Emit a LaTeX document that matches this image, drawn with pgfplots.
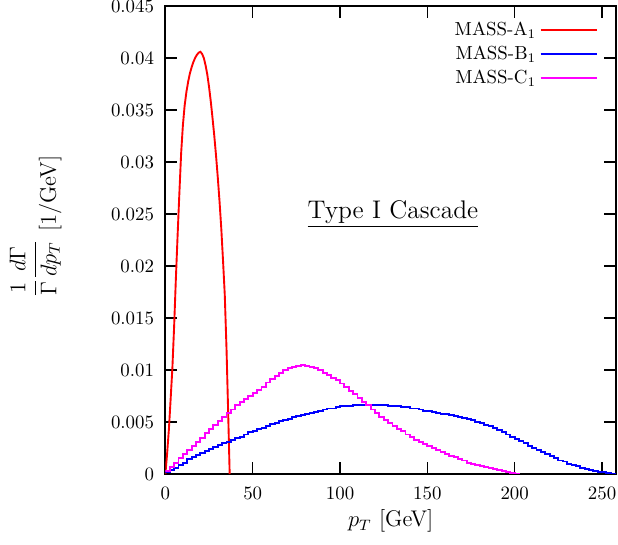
\documentclass[border=0pt]{standalone}
\usepackage{pgfplots}
\pgfplotsset{compat=1.18}
\definecolor{mmag}{RGB}{255,0,255}
\newlength\px \setlength\px{0.53pt}
\begin{document}
\begin{tikzpicture}
\begin{axis}[name=ax, scale only axis, width=450.6\px, height=468\px,
  xmin=0, xmax=258, ymin=0, ymax=0.045,
  xtick={0,50,100,150,200,250},
  ytick={0,0.005,0.01,0.015,0.02,0.025,0.03,0.035,0.04,0.045},
  scaled y ticks=false,
  tick align=inside, major tick length=12\px,
  axis line style={line width=1pt},
  every tick/.style={black, line width=0.8pt},
  yticklabel style={/pgf/number format/fixed, /pgf/number format/precision=3, xshift=-2.5pt},
  xticklabel style={yshift=-3.5pt},
  xlabel={$p_T$ [GeV]},
  ylabel={\raisebox{8pt}{$\displaystyle\frac{1}{\Gamma}\frac{d\Gamma}{dp_T}$}\ [1/GeV]},
  every axis x label/.style={at={(axis description cs:0.5,0)}, anchor=center, yshift=-47\px, font=\large},
  every axis y label/.style={at={(axis description cs:-0.288,0.529)}, anchor=center, rotate=90, font=\large},
  legend cell align=right,
  legend plot pos=right,
  legend image code/.code={\draw[#1, line width=0.8pt] (0pt,0pt) -- (30pt,0pt);},
  legend style={at={(1,1)}, anchor=north east, xshift=-12\px, yshift=-8\px, draw=none, fill=none},
]
\addplot[color=red, line width=1pt, sharp plot] coordinates {
(0,0) (1,0.0020) (2,0.0043) (3,0.0072) (4,0.0102) (5,0.0142) (6,0.0188) (7,0.0230) (8,0.0270) (9,0.0308)
(10,0.0335) (11,0.0354) (12,0.0367) (13,0.0377) (14,0.0385) (15,0.0391) (16,0.0396) (17,0.0400) (18,0.0403) (19,0.0405)
(20,0.0406) (21,0.0404) (22,0.0400) (23,0.0393) (24,0.0384) (25,0.0372) (26,0.0358) (27,0.0342) (28,0.0325) (29,0.0306)
(30,0.0285) (31,0.0262) (32,0.0236) (33,0.0205) (34,0.0172) (35,0.0120) (36,0.0055) (36.8,0)
};
\addlegendentry{MASS-A$_1$}
\addplot[color=blue, line width=1pt, const plot] coordinates {
(0,0.0002) (2.5,0.0004) (5,0.0006) (7.5,0.0009) (10,0.0011) (12.5,0.0014) (15,0.0016) (17.5,0.0018)
(20,0.0020) (22.5,0.0022) (25,0.0024) (27.5,0.0026) (30,0.0028) (32.5,0.0030) (35,0.0031) (37.5,0.0033)
(40,0.0035) (42.5,0.0036) (45,0.0038) (47.5,0.0040) (50,0.0041) (52.5,0.0043) (55,0.0044) (57.5,0.0046)
(60,0.0048) (62.5,0.0049) (65,0.0051) (67.5,0.0052) (70,0.0053) (72.5,0.0055) (75,0.0056) (77.5,0.0057)
(80,0.0058) (82.5,0.0059) (85,0.0060) (87.5,0.0061) (90,0.0062) (92.5,0.0063) (95,0.0063) (97.5,0.0064)
(100,0.0065) (102.5,0.0065) (105,0.0065) (107.5,0.0066) (110,0.0066) (112.5,0.0066) (115,0.0066) (117.5,0.0066)
(120,0.0066) (122.5,0.0066) (125,0.0066) (127.5,0.0065) (130,0.0065) (132.5,0.0065) (135,0.0064) (137.5,0.0064)
(140,0.0063) (142.5,0.0063) (145,0.0062) (147.5,0.0061) (150,0.0061) (152.5,0.0060) (155,0.0059) (157.5,0.0058)
(160,0.0058) (162.5,0.0057) (165,0.0056) (167.5,0.0055) (170,0.0054) (172.5,0.0053) (175,0.0052) (177.5,0.0050)
(180,0.0049) (182.5,0.0047) (185,0.0046) (187.5,0.0044) (190,0.0042) (192.5,0.0040) (195,0.0038) (197.5,0.0036)
(200,0.0034) (202.5,0.0032) (205,0.0030) (207.5,0.0027) (210,0.0025) (212.5,0.0023) (215,0.0021) (217.5,0.0019)
(220,0.0017) (222.5,0.0015) (225,0.0013) (227.5,0.0012) (230,0.0010) (232.5,0.0009) (235,0.0008) (237.5,0.0006)
(240,0.0005) (242.5,0.0004) (245,0.0003) (247.5,0.0002) (250,0.00015) (252.5,0.0001) (255,0.00005) (257.5,0)
};
\addlegendentry{MASS-B$_1$}
\addplot[color=mmag, line width=1pt, const plot] coordinates {
(0,0.0003) (2.5,0.0007) (5,0.0011) (7.5,0.0015) (10,0.0019) (12.5,0.0023) (15,0.0027) (17.5,0.0031)
(20,0.0035) (22.5,0.0039) (25,0.0043) (27.5,0.0047) (30,0.0051) (32.5,0.0055) (35,0.0059) (37.5,0.0062)
(40,0.0066) (42.5,0.0069) (45,0.0072) (47.5,0.0075) (50,0.0078) (52.5,0.0081) (55,0.0084) (57.5,0.0088)
(60,0.0091) (62.5,0.0094) (65,0.0097) (67.5,0.0100) (70,0.0102) (72.5,0.0103) (75,0.0104) (77.5,0.01045)
(80,0.0104) (82.5,0.0103) (85,0.0102) (87.5,0.0100) (90,0.0097) (92.5,0.0095) (95,0.0092) (97.5,0.0090)
(100,0.0087) (102.5,0.0084) (105,0.0080) (107.5,0.0077) (110,0.0073) (112.5,0.0069) (115,0.0066) (117.5,0.0062)
(120,0.0059) (122.5,0.0055) (125,0.0052) (127.5,0.0049) (130,0.0046) (132.5,0.0043) (135,0.0041) (137.5,0.0038)
(140,0.0036) (142.5,0.0033) (145,0.0031) (147.5,0.0029) (150,0.0027) (152.5,0.0025) (155,0.0023) (157.5,0.0021)
(160,0.0019) (162.5,0.0017) (165,0.0016) (167.5,0.0014) (170,0.0013) (172.5,0.0011) (175,0.0010) (177.5,0.0009)
(180,0.0008) (182.5,0.0007) (185,0.0006) (187.5,0.0005) (190,0.0004) (192.5,0.0003) (195,0.0002) (197.5,0.0001)
(200,0.00005) (202.5,0)
};
\addlegendentry{MASS-C$_1$}
\node[font=\fontsize{13.5}{16}\selectfont] at (axis cs:130.3,0.0250) {\underline{Type I Cascade}};
\end{axis}
\pgfresetboundingbox
\path[use as bounding box] ([xshift=-165.4\px, yshift=-70\px]ax.south west) rectangle ([xshift=2\px, yshift=6\px]ax.north east);
\end{tikzpicture}
\end{document}
